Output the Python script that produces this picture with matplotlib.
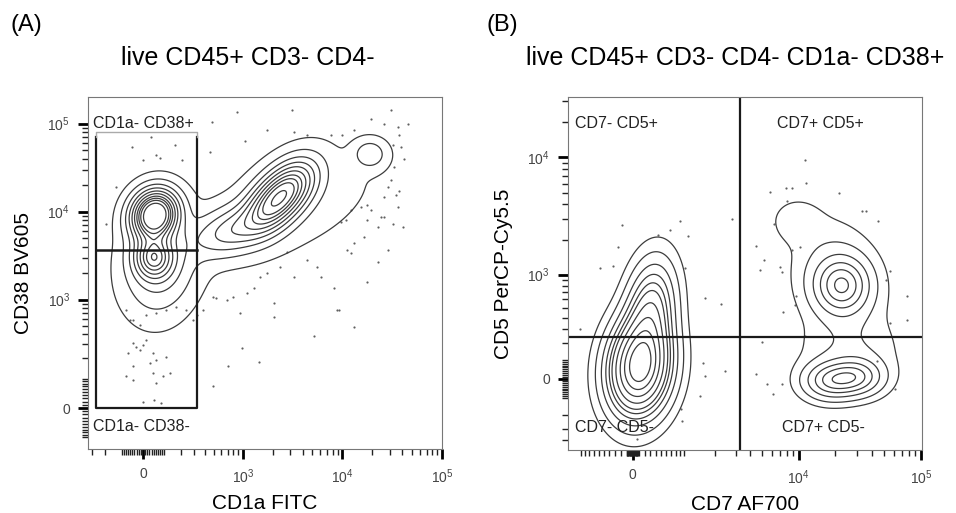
import numpy as np
import matplotlib.pyplot as plt

plt.rcParams['font.family'] = ['Liberation Sans', 'DejaVu Sans']
plt.rcParams['mathtext.fontset'] = 'custom'
plt.rcParams['mathtext.rm'] = 'Liberation Sans'
plt.rcParams['mathtext.it'] = 'Liberation Sans:italic'

# ---- panel A: CD1a FITC vs CD38 BV605 ----
a_dots_x = [869, 3150, 30800, 471, 39, -54, 162, 63, 205, 0, 80, 452, 1056, 1760, 3270,
            4450, 7650, 10030, 13140, 19360, 26400, 35900, 45200, 37300, 31900, 38800,
            41900, 33200, 30800, 28500, 26400, 34500, 35900, 40300, 24400, 19360, 17900,
            15340, 12170, 10820, 9650, 13140, 12170, 11250, 16590, 22600, 17900, 13140,
            8930, 8270, 5620, 4450, 3270, 2800, 2400, 1760, 1510, 1290, 1110, 802, 683,
            532, 939, 2060, 2060, 987, 1450, 711, 491, 5200, 9290, 6080, 17900, 22600,
            28500, 26400, 31900, 37300,
            -133, -193, -80, -63, -47, -16, 16, 63, 113, 172, 238, 289, -47, -31, 0,
            -16, 16, 47, 63, 113, 31, -70, -47, -80, -47, 47, 63, 97, 133, 0, 54, 88,
            319, 382, 491]
a_dots_y = [134000, 143000, 143000, 104000, 70200, 54100, 56500, 43600, 38900, 38200,
            40500, 47500, 63300, 83600, 80000, 73300, 73300, 73300, 83600, 113000, 99500,
            91300, 99500, 73300, 56500, 54100, 39900, 32100, 22700, 19100, 14700, 15300,
            11300, 6720, 8700, 10400, 11900, 11300, 10400, 8000, 7650, 4350, 3350, 3660,
            5180, 2700, 1600, 489, 762, 1345, 2370, 2820, 1830, 3500, 2370, 1990, 1830,
            1345, 1180, 1082, 990, 1035, 699, 910, 638, 269, 177, 159, 73, 380, 762, 1830,
            8000, 6720, 3660, 8700, 7330, 17000,
            19100, 7330, 762, 584, 584, 511, 668, 699, 762, 833, 762, 584, 310, 282, 295,
            256, 340, 232, 191, 211, 174, 232, 157, 109, 95, 123, 82, 109, 123, 20, 26, 15,
            668, 762, 1082]

# cell populations: centre (data units), spread (decades), correlation, share
a_pop_x = [55, 50, 80, 1900, 3000, 800, 19000, 3200]
a_pop_y = [9200, 3000, 2500, 11500, 19000, 6200, 45000, 11800]
a_pop_sx = [0.14, 0.12, 0.22, 0.17, 0.17, 0.25, 0.10, 0.60]
a_pop_sy = [0.17, 0.15, 0.35, 0.20, 0.20, 0.18, 0.10, 0.45]
a_pop_rho = [0.1, 0.0, 0.1, 0.4, 0.4, 0.4, 0.0, 0.5]
a_pop_w = [0.22, 0.08, 0.12, 0.15, 0.15, 0.10, 0.010, 0.08]

a_gate_x = [-263, 320]
a_gate_y = [0, 3670, 70800, 80600]

# ---- panel B: CD7 AF700 vs CD5 PerCP-Cy5.5 ----
b_dots_x = [-1030, -185, -245, -580, -330, 445, 680, 900, 1110, 1020, 2790, 1600, 2260,
            1530, 1600, 2450, 1440, 937, 68, 920,
            11300, 11500, 7900, 8800, 5800, 21300, 8000, 6300, 33000, 35800, 44600, 4500,
            5200, 4850, 7100, 7300, 8800, 10300, 55500, 52200, 77000, 77000, 56300, 9600,
            7500, 9400, 11300, 5000, 4500, 5500, 6150, 7300, 61000, 43700]
b_dots_y = [300, 2680, 1720, 1150, 1190, 2210, 2430, 2870, 2150, 1150, 3000, 620, 540,
            83, 17, 40, -88, -240, -390, -163,
            9500, 6100, 5500, 5500, 5050, 5000, 4300, 2730, 3500, 3500, 2900, 1760,
            1330, 1090, 1170, 1050, 1620, 1730, 1070, 900, 640, 378, 350, 640,
            450, 530, 250, 210, 26, -26, -80, -26, -52, 97]

b_pop_x = [110, 300, 22600, 18000, 30000, 9500, 21000, 26000]
b_pop_y = [60, 450, 800, -10, 10, 2900, 900, 150]
b_pop_sx = [0.15, 0.12, 0.14, 0.14, 0.14, 0.13, 0.22, 0.25]
b_pop_sy = [0.24, 0.26, 0.15, 0.10, 0.10, 0.12, 0.30, 0.18]
b_pop_rho = [0.1, 0.2, 0.0, 0.0, 0.0, 0.0, -0.2, 0.0]
b_pop_w = [0.48, 0.17, 0.08, 0.045, 0.045, 0.008, 0.07, 0.03]

b_gate_x = 3280
b_gate_y = 245

contour_fracs = [0.1, 0.2, 0.3, 0.4, 0.5, 0.6, 0.7, 0.8, 0.9, 0.97]


def biex(w):
    ln10 = np.log(10)
    fwd = lambda v: np.arcsinh(np.asarray(v, dtype=float) / w) / ln10
    inv = lambda d: w * np.sinh(np.asarray(d, dtype=float) * ln10)
    return fwd, inv


def minor_ticks(lo, hi, majors):
    t = [s * k * 10 ** n for s in (1, -1) for n in range(1, 5) for k in range(1, 10)]
    return [v for v in t if lo < v < hi and v not in majors]


def density(fx, ix, fy, iy, xlim, ylim, px, py, sx, sy, rho, w):
    u = np.linspace(fx(xlim[0]), fx(xlim[1]), 300)
    v = np.linspace(fy(ylim[0]), fy(ylim[1]), 300)
    U, V = np.meshgrid(u, v)
    Z = np.zeros_like(U)
    for cx, cy, a, b, r, k in zip(fx(px), fy(py), sx, sy, rho, w):
        du = (U - cx) / a
        dv = (V - cy) / b
        q = (du ** 2 - 2 * r * du * dv + dv ** 2) / (1 - r ** 2)
        Z += k / (a * b) * np.exp(-0.5 * q)
    z = np.sort(Z.ravel())[::-1]
    c = np.cumsum(z) / z.sum()
    levels = sorted(set(z[np.searchsorted(c, f)] for f in contour_fracs))
    return ix(U), iy(V), Z, levels


def setup_axis(ax, xw, yw, xlim, ylim, xmaj, xlab, ymaj, ylab):
    fx, ix = biex(xw)
    fy, iy = biex(yw)
    ax.set_xscale('function', functions=(fx, ix))
    ax.set_yscale('function', functions=(fy, iy))
    ax.set_xlim(*xlim)
    ax.set_ylim(*ylim)
    ax.set_xticks(xmaj)
    ax.set_xticklabels(xlab)
    ax.set_yticks(ymaj)
    ax.set_yticklabels(ylab)
    ax.set_xticks(minor_ticks(xlim[0], xlim[1], xmaj), minor=True)
    ax.set_yticks(minor_ticks(ylim[0], ylim[1], ymaj), minor=True)
    ax.tick_params(which='major', direction='out', length=7, width=2.0, color='black',
                   labelsize=10, labelcolor='#444444', pad=6)
    ax.tick_params(which='minor', direction='out', length=4, width=1.0, color='#222222')
    for s in ax.spines.values():
        s.set_linewidth(0.8)
        s.set_color('#777777')
    return fx, ix, fy, iy


fig = plt.figure(figsize=(9.56, 5.13), dpi=100)
axA = fig.add_axes([0.0921, 0.1248, 0.3703, 0.686])
axB = fig.add_axes([0.5941, 0.1228, 0.3703, 0.688])

# panel A
xlimA, ylimA = (-330, 1.0e5), (-152, 2.0e5)
fx, ix, fy, iy = setup_axis(axA, 202, 118, xlimA, ylimA,
                            [0, 1e3, 1e4, 1e5], ['0', '$10^3$', '$10^4$', '$10^5$'],
                            [0, 1e3, 1e4, 1e5], ['0', '$10^3$', '$10^4$', '$10^5$'])
X, Y, Z, lev = density(fx, ix, fy, iy, xlimA, ylimA, a_pop_x, a_pop_y,
                       a_pop_sx, a_pop_sy, a_pop_rho, a_pop_w)
axA.contour(X, Y, Z, levels=lev, colors='#3c3c3c', linewidths=0.9)
axA.scatter(a_dots_x, a_dots_y, s=2.5, color='#606060', linewidths=0)
gx0, gx1 = a_gate_x
axA.plot([gx0, gx0, gx1, gx1], [a_gate_y[2], a_gate_y[0], a_gate_y[0], a_gate_y[2]],
         color='#1a1a1a', lw=1.6)
axA.plot([gx0, gx1], [a_gate_y[1], a_gate_y[1]], color='#1a1a1a', lw=1.8)
axA.plot([gx0, gx0, gx1, gx1], [a_gate_y[2], a_gate_y[3], a_gate_y[3], a_gate_y[2]],
         color='#aaaaaa', lw=1.0)
axA.text(0.015, 0.925, 'CD1a- CD38+', transform=axA.transAxes, fontsize=11.5,
         color='#222222', va='center', ha='left')
axA.text(0.015, 0.065, 'CD1a- CD38-', transform=axA.transAxes, fontsize=11.5,
         color='#222222', va='center', ha='left')
axA.set_xlabel('CD1a FITC', fontsize=15, labelpad=6)
axA.set_ylabel('CD38 BV605', fontsize=15, labelpad=10)

# panel B
xlimB, ylimB = (-1363, 1.02e5), (-498, 3.24e4)
fx, ix, fy, iy = setup_axis(axB, 886, 266, xlimB, ylimB,
                            [0, 1e4, 1e5], ['0', '$10^4$', '$10^5$'],
                            [0, 1e3, 1e4], ['0', '$10^3$', '$10^4$'])
X, Y, Z, lev = density(fx, ix, fy, iy, xlimB, ylimB, b_pop_x, b_pop_y,
                       b_pop_sx, b_pop_sy, b_pop_rho, b_pop_w)
axB.contour(X, Y, Z, levels=lev, colors='#3c3c3c', linewidths=0.9)
axB.scatter(b_dots_x, b_dots_y, s=2.5, color='#606060', linewidths=0)
axB.axvline(b_gate_x, color='#1a1a1a', lw=1.6)
axB.axhline(b_gate_y, color='#1a1a1a', lw=1.6)
axB.text(0.02, 0.925, 'CD7- CD5+', transform=axB.transAxes, fontsize=11.5, color='#222222', va='center')
axB.text(0.59, 0.925, 'CD7+ CD5+', transform=axB.transAxes, fontsize=11.5, color='#222222', va='center')
axB.text(0.02, 0.065, 'CD7- CD5-', transform=axB.transAxes, fontsize=11.5, color='#222222', va='center')
axB.text(0.605, 0.065, 'CD7+ CD5-', transform=axB.transAxes, fontsize=11.5, color='#222222', va='center')
axB.set_xlabel('CD7 AF700', fontsize=15, labelpad=6)
axB.set_ylabel('CD5 PerCP-Cy5.5', fontsize=15, labelpad=10)

fig.text(248 / 956, 1 - 58 / 513, 'live CD45+ CD3- CD4-', fontsize=18, ha='center', va='center')
fig.text(735 / 956, 1 - 58 / 513, 'live CD45+ CD3- CD4- CD1a- CD38+', fontsize=18, ha='center', va='center')
fig.text(10 / 956, 1 - 25 / 513, '(A)', fontsize=17, ha='left', va='center')
fig.text(487 / 956, 1 - 25 / 513, '(B)', fontsize=17, ha='left', va='center')

fig.savefig('out.png', dpi=100)
